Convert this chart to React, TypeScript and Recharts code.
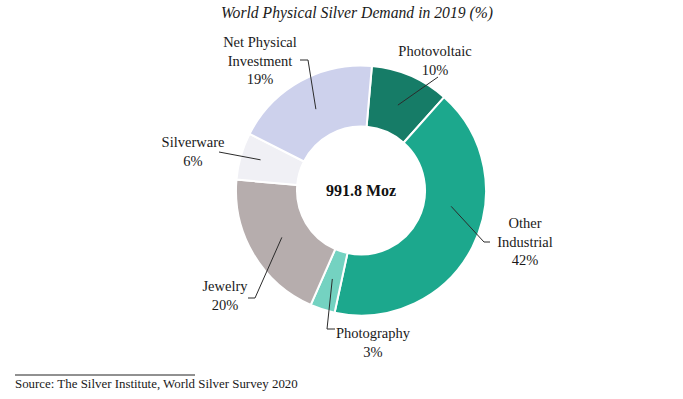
import React from "react";
import { PieChart, Pie, Cell } from "recharts";

const categories = ["Photovoltaic", "Other Industrial", "Photography", "Jewelry", "Silverware", "Net Physical Investment"];
const shares = [10.2, 41.8, 3.2, 19.8, 6.1, 18.9];
const shareLabels = ["10%", "42%", "3%", "20%", "6%", "19%"];
const labelLines = [["Photovoltaic"], ["Other", "Industrial"], ["Photography"], ["Jewelry"], ["Silverware"], ["Net Physical", "Investment"]];
const centerText = "991.8 Moz";
const titleText = "World Physical Silver Demand in 2019 (%)";
const sourceText = "Source: The Silver Institute, World Silver Survey 2020";

const colors = ["#167c67", "#1ca88d", "#74d2c1", "#b6adad", "#f0f0f5", "#cdd1ec"];

// label layout (relative to pie centre), styling only
const layout = [
  { shift: 0, r: 93, elbow: [77, -113.5], tick: null, tx: 74, ty: -139.5 },
  { shift: -17, r: 91.5, elbow: [123, 51.5], tick: 129, tx: 164, ty: 32.5 },
  { shift: 0, r: 93, elbow: [-34, 138.5], tick: -26, tx: 12, ty: 142.5 },
  { shift: 0, r: 92, elbow: [-106, 107.5], tick: -113, tx: -136, ty: 95.5 },
  { shift: 1, r: 105, elbow: [-142, -38.5], tick: null, tx: -168, ty: -48.5 },
  { shift: 0, r: 93, elbow: [-53, -130.5], tick: -61, tx: -101, ty: -148.5 },
];

const data = categories.map((name, i) => ({ name, value: shares[i] }));
const FONT = "'Liberation Serif', 'Times New Roman', serif";
const RAD = Math.PI / 180;

const renderLabel = (props: any) => {
  const { cx, cy, midAngle, index } = props;
  const L = layout[index];
  const a = (midAngle - L.shift) * RAD;
  const sx = cx + L.r * Math.cos(a);
  const sy = cy - L.r * Math.sin(a);
  const ex = cx + L.elbow[0];
  const ey = cy + L.elbow[1];
  let pts = `${sx},${sy} ${ex},${ey}`;
  if (L.tick !== null) pts += ` ${cx + L.tick},${ey}`;
  const lines = [...labelLines[index], shareLabels[index]];
  return (
    <g key={`lbl-${index}`}>
      <polyline points={pts} fill="none" stroke="#2b2b2b" strokeWidth={1} />
      {lines.map((t, k) => (
        <text
          key={k}
          x={cx + L.tx}
          y={cy + L.ty + k * 18.7}
          textAnchor="middle"
          dominantBaseline="central"
          fontFamily={FONT}
          fontSize={14.5}
          fill="#1a1a1a"
        >
          {t}
        </text>
      ))}
    </g>
  );
};

export default function App() {
  return (
    <div style={{ position: "absolute", left: 0, top: 0, width: 683, height: 399, background: "#fff" }}>
      <PieChart width={683} height={399} margin={{ top: 0, right: 0, bottom: 0, left: 0 }}>
        <text x={357} y={12} textAnchor="middle" dominantBaseline="central" fontFamily={FONT} fontStyle="italic" fontSize={15.7} fill="#1a1a1a">
          {titleText}
        </text>
        <Pie
          data={data}
          dataKey="value"
          nameKey="name"
          cx={361}
          cy={190.5}
          innerRadius={64}
          outerRadius={125}
          startAngle={85}
          endAngle={-275}
          stroke="#ffffff"
          strokeWidth={2}
          isAnimationActive={false}
          label={renderLabel}
          labelLine={false}
        >
          {data.map((d, i) => (
            <Cell key={d.name} fill={colors[i]} />
          ))}
        </Pie>
        <text x={361} y={190.5} textAnchor="middle" dominantBaseline="central" fontFamily={FONT} fontWeight="bold" fontSize={16} fill="#111">
          {centerText}
        </text>
        <line x1={15} y1={375} x2={195} y2={375} stroke="#222" strokeWidth={1} />
        <text x={15} y={384} dominantBaseline="central" fontFamily={FONT} fontSize={12.9} fill="#1a1a1a">
          {sourceText}
        </text>
      </PieChart>
    </div>
  );
}
